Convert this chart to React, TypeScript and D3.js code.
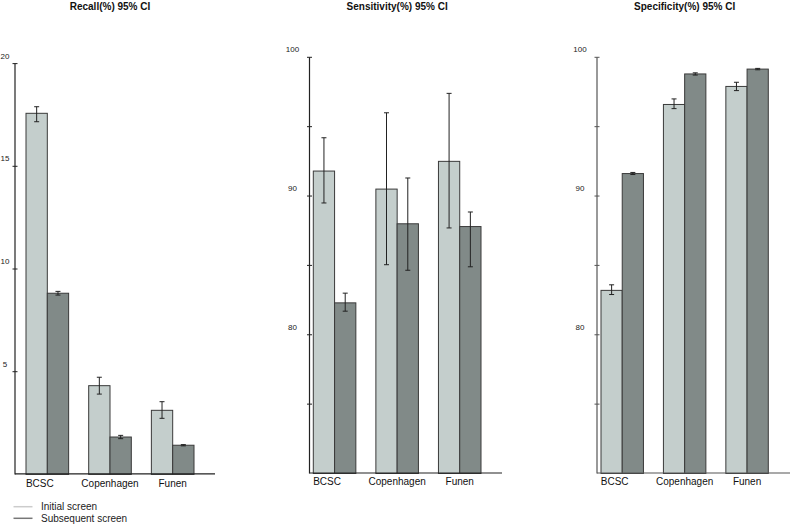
import React from "react";
import * as d3 from "d3";

const categories = ["BCSC", "Copenhagen", "Funen"];
const seriesNames = ["Initial screen", "Subsequent screen"];

const recallInitial = [17.58, 4.32, 3.12];
const recallInitialLow = [17.17, 3.91, 2.73];
const recallInitialHigh = [17.9, 4.73, 3.54];
const recallSubsequent = [8.82, 1.82, 1.42];
const recallSubsequentLow = [8.73, 1.74, 1.39];
const recallSubsequentHigh = [8.91, 1.9, 1.45];

const sensInitial = [91.8, 90.5, 92.5];
const sensInitialLow = [89.5, 85.05, 87.7];
const sensInitialHigh = [94.2, 96.0, 97.4];
const sensSubsequent = [82.3, 88.0, 87.8];
const sensSubsequentLow = [81.7, 84.65, 84.9];
const sensSubsequentHigh = [83.0, 91.3, 88.85];

const specInitial = [83.2, 96.6, 97.9];
const specInitialLow = [82.9, 96.3, 97.6];
const specInitialHigh = [83.6, 97.0, 98.2];
const specSubsequent = [91.62, 98.8, 99.15];
const specSubsequentLow = [91.55, 98.72, 99.1];
const specSubsequentHigh = [91.7, 98.88, 99.2];

const recallTicks = [5, 10, 15, 20];
const recallLabels = ["5", "10", "15", "20"];
const pctTicks = [75, 80, 85, 90, 95, 100];
const pctLabels = ["", "80", "", "90", "", "100"];

const FILL = ["#c4cecc", "#818a88"];
const FONT = "'Liberation Sans', Arial, sans-serif";

type Panel = {
  title: string;
  domain: [number, number];
  ticks: number[];
  labels: string[];
  vals: number[][];
  lows: number[][];
  highs: number[][];
  axisX: number;
  axisEnd: number;
  barsRange: [number, number];
  yRange: [number, number];
  labelDx: number;
  catY: number;
  axisColor: string;
};

const panels: Panel[] = [
  {
    title: "Recall(%) 95% CI",
    domain: [0, 20],
    ticks: recallTicks,
    labels: recallLabels,
    vals: [recallInitial, recallSubsequent],
    lows: [recallInitialLow, recallSubsequentLow],
    highs: [recallInitialHigh, recallSubsequentHigh],
    axisX: 15,
    axisEnd: 215,
    barsRange: [26, 194],
    yRange: [474.4, 63.6],
    labelDx: -10,
    catY: 487,
    axisColor: "#222",
  },
  {
    title: "Sensitivity(%) 95% CI",
    domain: [70, 100],
    ticks: pctTicks,
    labels: pctLabels,
    vals: [sensInitial, sensSubsequent],
    lows: [sensInitialLow, sensSubsequentLow],
    highs: [sensInitialHigh, sensSubsequentHigh],
    axisX: 309.5,
    axisEnd: 502,
    barsRange: [313.3, 481],
    yRange: [473.5, 57.3],
    labelDx: -17,
    catY: 484.5,
    axisColor: "#222",
  },
  {
    title: "Specificity(%) 95% CI",
    domain: [70, 100],
    ticks: pctTicks,
    labels: pctLabels,
    vals: [specInitial, specSubsequent],
    lows: [specInitialLow, specSubsequentLow],
    highs: [specInitialHigh, specSubsequentHigh],
    axisX: 597,
    axisEnd: 790,
    barsRange: [601, 768.3],
    yRange: [473.5, 57.3],
    labelDx: -17,
    catY: 484.5,
    axisColor: "#555",
  },
];

function PanelView({ p }: { p: Panel }) {
  const x = d3
    .scaleBand<string>()
    .domain(categories)
    .range(p.barsRange)
    .paddingInner(0.32)
    .paddingOuter(0);
  const sub = d3
    .scaleBand<string>()
    .domain(seriesNames)
    .range([0, x.bandwidth()]);
  const y = d3.scaleLinear().domain(p.domain).range(p.yRange);
  const base = p.yRange[0];
  const mid = (x(categories[1]) as number) + x.bandwidth() / 2;
  return (
    <g>
      <text
        x={mid}
        y={10}
        textAnchor="middle"
        fontWeight="bold"
        fontSize={10}
        fill="#111"
      >
        {p.title}
      </text>
      {categories.map((c, i) =>
        seriesNames.map((s, j) => {
          const bx = (x(c) as number) + (sub(s) as number);
          const yv = y(p.vals[j][i]);
          const cx = bx + sub.bandwidth() / 2;
          const yl = y(p.lows[j][i]);
          const yh = y(p.highs[j][i]);
          return (
            <g key={c + s}>
              <rect
                x={bx}
                y={yv}
                width={sub.bandwidth()}
                height={base - yv}
                fill={FILL[j]}
                stroke="#3a3a3a"
                strokeWidth={1}
              />
              <line x1={cx} x2={cx} y1={yh} y2={yl} stroke="#222" strokeWidth={1} />
              <line x1={cx - 2.5} x2={cx + 2.5} y1={yh} y2={yh} stroke="#222" strokeWidth={1} />
              <line x1={cx - 2.5} x2={cx + 2.5} y1={yl} y2={yl} stroke="#222" strokeWidth={1} />
            </g>
          );
        })
      )}
      <line
        x1={p.axisX}
        x2={p.axisX}
        y1={base}
        y2={y(p.domain[1])}
        stroke={p.axisColor}
        strokeWidth={1.2}
      />
      <line
        x1={p.axisX}
        x2={p.axisEnd}
        y1={base - 0.5}
        y2={base - 0.5}
        stroke={p.axisColor}
        strokeWidth={1.2}
      />
      {p.ticks.map((t, i) => (
        <g key={t}>
          <line
            x1={p.axisX - 2.5}
            x2={p.axisX + 2.5}
            y1={y(t)}
            y2={y(t)}
            stroke={p.axisColor}
            strokeWidth={1}
          />
          {p.labels[i] ? (
            <text
              x={p.axisX + p.labelDx}
              y={y(t) - 5}
              textAnchor="middle"
              fontSize={8}
              fill="#222"
            >
              {p.labels[i]}
            </text>
          ) : null}
        </g>
      ))}
      {categories.map((c, i) => (
        <text
          key={c}
          x={(x(c) as number) + x.bandwidth() / 2 + (i === 0 ? -7.5 : 0)}
          y={p.catY}
          textAnchor="middle"
          fontSize={10}
          fill="#111"
        >
          {c}
        </text>
      ))}
    </g>
  );
}

export default function App() {
  const legendY = [506.7, 518.3];
  const legendColors = ["#cccccc", "#777777"];
  return (
    <svg
      width={790}
      height={524}
      style={{ position: "absolute", left: 0, top: 0, background: "#fff" }}
      fontFamily={FONT}
    >
      <rect width={790} height={524} fill="#fff" />
      {panels.map((p) => (
        <PanelView key={p.title} p={p} />
      ))}
      {seriesNames.map((s, i) => (
        <g key={s}>
          <line
            x1={13.5}
            x2={32.5}
            y1={legendY[i]}
            y2={legendY[i]}
            stroke={legendColors[i]}
            strokeWidth={1.5}
          />
          <text x={41} y={legendY[i] + 3.5} fontSize={10} fill="#222">
            {s}
          </text>
        </g>
      ))}
    </svg>
  );
}
